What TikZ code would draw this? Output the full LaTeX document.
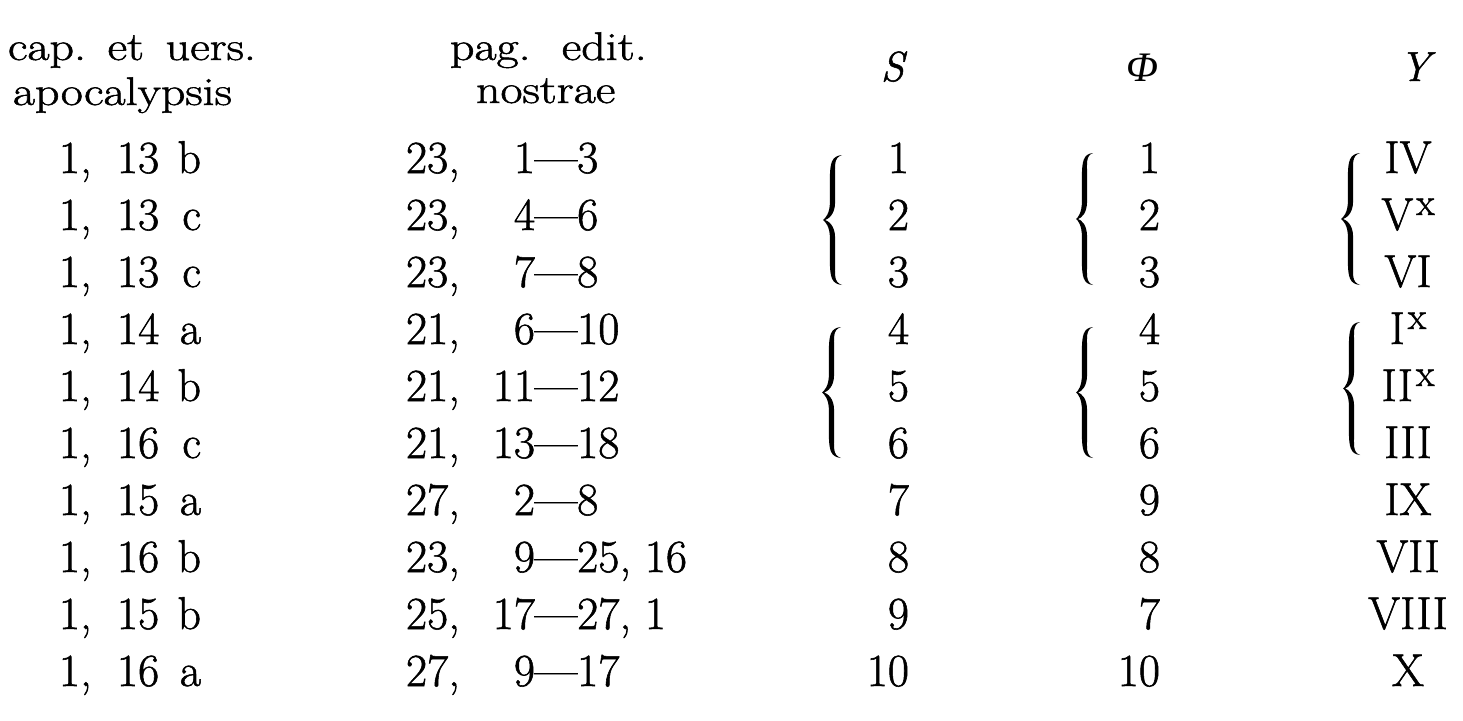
\documentclass[tikz,border=0pt]{standalone}
\usepackage{fontspec}
\usepackage{graphicx}
\setmainfont{Latin Modern Roman}[FakeBold=1.2]
\newfontfamily\grk{Liberation Serif}
\newcommand\bodyfont{\fontsize{46}{50}\selectfont}
\newcommand\headfont{\fontsize{40}{44}\selectfont}
\newcommand\hd[1]{\scalebox{1.2}[1]{#1}}
\newcommand\sx{\hspace{3pt}\raisebox{15pt}{\fontsize{38}{38}\selectfont x}}
\newcommand\oldbrace[4]{%
  \pgfmathsetmacro\bxr{#2}%
  \pgfmathsetmacro\bxl{#1}%
  \pgfmathsetmacro\bs{(#1+#2)/2}%
  \pgfmathsetmacro\byt{#3}%
  \pgfmathsetmacro\byb{#4}%
  \pgfmathsetmacro\bym{(#3+#4)/2}%
  \fill (\bxr,\byt) .. controls ({\bs-1},{\byt+1}) and ({\bs-2.6},{\byt+8}) .. ({\bs-2.6},{\byt+24})
   -- ({\bs-2.6},{\bym-18}) .. controls ({\bs-2.6},{\bym-6}) and ({\bxl+2},{\bym-1.5}) .. (\bxl,\bym)
   .. controls ({\bxl+2},{\bym+1.5}) and ({\bs-2.6},{\bym+6}) .. ({\bs-2.6},{\bym+18})
   -- ({\bs-2.6},{\byb-24}) .. controls ({\bs-2.6},{\byb-8}) and ({\bs-1},{\byb-1}) .. (\bxr,\byb)
   .. controls ({\bs+1},{\byb-3}) and ({\bs+2.6},{\byb-10}) .. ({\bs+2.6},{\byb-24})
   -- ({\bs+2.6},{\bym+18}) .. controls ({\bs+2.6},{\bym+5}) and ({\bxl+5},{\bym+1}) .. ({\bxl+2},\bym)
   .. controls ({\bxl+5},{\bym-1}) and ({\bs+2.6},{\bym-5}) .. ({\bs+2.6},{\bym-18})
   -- ({\bs+2.6},{\byt+24}) .. controls ({\bs+2.6},{\byt+10}) and ({\bs+1},{\byt+3}) .. (\bxr,\byt) -- cycle;}
\begin{document}
\begin{tikzpicture}[x=1pt,y=-1pt,
  cell/.style={inner sep=0pt,outer sep=0pt,font=\bodyfont},
  head/.style={inner sep=0pt,outer sep=0pt,font=\headfont},
  ital/.style={inner sep=0pt,outer sep=0pt,font=\itshape\fontsize{42}{46}\selectfont},
  greek/.style={inner sep=0pt,outer sep=0pt,font=\grk\itshape\fontsize{42}{46}\selectfont}]
\fill[white] (0,0) rectangle (1463,720);
\useasboundingbox (0,0) rectangle (1463,720);
% headers
\node[head,anchor=base west] (hcap) at (8,60) {\hd{cap.\hspace{0.45em}et\hspace{0.45em}uers.}};
\node[head,anchor=base west] (hapo) at (13,105) {\hd{apocalypsis}};
\node[head,anchor=base west] (hpag) at (450,60) {\hd{pag.\hspace{0.65em}edit.}};
\node[head,anchor=base west] (hnos) at (476,103) {\hd{nostrae}};
\node[ital,anchor=base east] (hS) at (904,81) {S};
\node[greek,anchor=base east] (hPhi) at (1158,81) {Φ};
\node[ital,anchor=base east] (hY) at (1430,81) {Y};
% rows
\foreach \i/\v/\l/\p/\f/\r/\s/\h/\y in {
  1/13/b/23/1/{—3}/1/1/IV,
  2/13/c/23/4/{—6}/2/2/{V\sx},
  3/13/c/23/7/{—8}/3/3/VI,
  4/14/a/21/6/{—10}/4/4/{I\sx},
  5/14/b/21/11/{—12}/5/5/{II\sx},
  6/16/c/21/13/{—18}/6/6/III,
  7/15/a/27/2/{—8}/7/9/IX,
  8/16/b/23/9/{—25,\ 16}/8/8/VII,
  9/15/b/25/17/{—27,\ 1}/9/7/VIII,
  10/16/a/27/9/{—17}/10/10/X}
{
  \pgfmathsetmacro\yy{173+57*(\i-1)}
  \node[cell,anchor=base west] (ca\i) at (59,\yy) {1,};
  \node[cell,anchor=base west] (cv\i) at (117,\yy) {\v};
  \node[cell,anchor=base east] (cl\i) at (201,\yy) {\l};
  \node[cell,anchor=base west] (pp\i) at (406,\yy) {\p,};
  \node[cell,anchor=base east] (pf\i) at (535,\yy) {\f};
  \node[cell,anchor=base west] (pr\i) at (535,\yy) {\r};
  \node[cell,anchor=base east] (s\i) at (909,\yy) {\s};
  \node[cell,anchor=base east] (ph\i) at (1160,\yy) {\h};
  \node[cell,anchor=base] (y\i) at (1408,\yy) {\y};
}
% braces
\oldbrace{823}{842}{155}{285}
\oldbrace{822}{841}{327}{458}
\oldbrace{1076}{1093}{153}{285}
\oldbrace{1076}{1093}{327}{458}
\oldbrace{1341}{1360}{153}{285}
\oldbrace{1343}{1360}{322}{455}
\end{tikzpicture}
\end{document}
